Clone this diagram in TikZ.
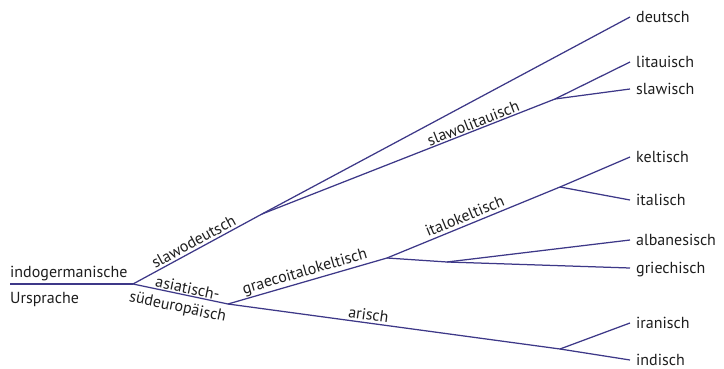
\documentclass[tikz,border=0pt]{standalone}
\usepackage{fontspec}
\setmainfont{PT Sans}
\definecolor{linecol}{HTML}{3D3888}
\definecolor{txtcol}{HTML}{1E1E1E}
\begin{document}
\begin{tikzpicture}[x=1pt,y=-1pt,
  font=\fontsize{16}{18}\selectfont,
  every node/.style={text=txtcol},
  branch/.style={draw=linecol, line width=1.25pt},
  leaf/.style={anchor=west, inner xsep=6pt, inner ysep=0pt, text height=12pt, text depth=1pt},
  roottext/.style={anchor=base west, inner sep=0pt},
  lab/.style={sloped, inner sep=1pt}]
\useasboundingbox (0,0) rectangle (724,369);
% junctions
\coordinate (r0) at (10,284);
\coordinate (j1) at (133,284);
\coordinate (j2) at (262,214);
\coordinate (j3) at (228,304);
\coordinate (j4) at (555,99);
\coordinate (j5) at (387,258);
\coordinate (j6) at (560,187);
\coordinate (j7) at (447,262);
\coordinate (j8) at (560,349);
% root text
\node[roottext] (root1) at (10,277) {indogermanische};
\node[roottext] (root2) at (10,303) {Ursprache};
% leaves
\node[leaf] (deutsch) at (630,17) {deutsch};
\node[leaf] (litauisch) at (630,62) {litauisch};
\node[leaf] (slawisch) at (630,89) {slawisch};
\node[leaf] (keltisch) at (630,157) {keltisch};
\node[leaf] (italisch) at (630,200) {italisch};
\node[leaf] (albanesisch) at (630,240) {albanesisch};
\node[leaf] (griechisch) at (630,268) {griechisch};
\node[leaf] (iranisch) at (630,323) {iranisch};
\node[leaf] (indisch) at (630,360) {indisch};
% branches
\draw[branch] (r0) -- (j1);
\draw[branch] (j1) -- node[lab, above, pos=0.5, yshift=1pt] {slawodeutsch} (j2);
\draw[branch] (j1) -- node[lab, above, pos=0.56, inner sep=1pt] {asiatisch-} node[lab, below, pos=0.5, inner sep=6pt] {südeuropäisch} (j3);
\draw[branch] (j2) -- (deutsch.west);
\draw[branch] (j2) -- node[lab, above, pos=0.73] {slawolitauisch} (j4);
\draw[branch] (j4) -- (litauisch.west);
\draw[branch] (j4) -- (slawisch.west);
\draw[branch] (j3) -- node[lab, above, pos=0.5] {graecoitalokeltisch} (j5);
\draw[branch] (j5) -- node[lab, above, pos=0.47, inner sep=3pt] {italokeltisch} (j6);
\draw[branch] (j6) -- (keltisch.west);
\draw[branch] (j6) -- (italisch.west);
\draw[branch] (j5) -- (j7);
\draw[branch] (j7) -- (albanesisch.west);
\draw[branch] (j7) -- (griechisch.west);
\draw[branch] (j3) -- node[lab, above, pos=0.42, inner sep=2pt] {arisch} (j8);
\draw[branch] (j8) -- (iranisch.west);
\draw[branch] (j8) -- (indisch.west);
\end{tikzpicture}
\end{document}
